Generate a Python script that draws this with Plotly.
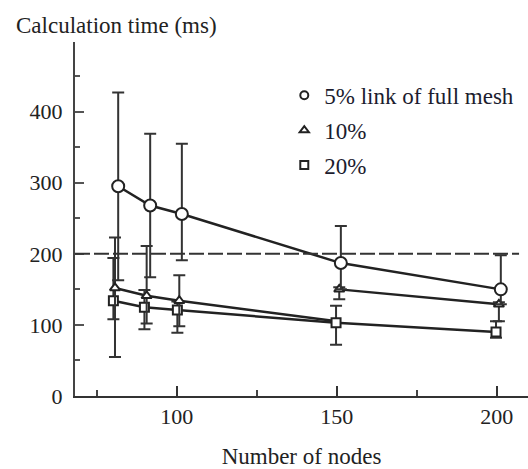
import plotly.graph_objects as go

# ---- data ----
circ_x = [81.7, 91.7, 101.6, 151.3, 201.3]
circ_y = [295, 268, 256, 187, 150]
circ_up = [132, 101, 99, 52, 48]
circ_dn = [132, 101, 65, 37, 21]

tri_x = [80.7, 90.6, 100.8, 150.8, 200.7]
tri_y = [152, 141, 134, 150, 129]
tri_up = [71, 70, 36, 3, 3]
tri_dn = [97, 39, 36, 14, 24]
# polyline drawn for the 10% series (as in the original figure)
tri_line_x = [80.7, 90.6, 100.8, 150.0, None, 150.8, 200.7]
tri_line_y = [152, 141, 134, 105, None, 150, 129]

sq_x = [80.2, 89.9, 100.2, 149.8, 199.8]
sq_y = [134, 125, 121, 103, 90]
sq_up = [60, 24, 12, 24, 15]
sq_dn = [26, 31, 32, 31, 8]

ref_level = 200
legend_names = ["5% link of full mesh", "10%", "20%"]

INK = "#222222"
FONT = "Liberation Serif, Times New Roman, Times, serif"

fig = go.Figure()

def err(up, dn):
    return dict(type="data", symmetric=False, array=up, arrayminus=dn,
                color="#333333", thickness=2, width=6)

# lines
fig.add_trace(go.Scatter(x=circ_x, y=circ_y, mode="lines",
                         line=dict(color=INK, width=2.5), showlegend=False, hoverinfo="skip"))
fig.add_trace(go.Scatter(x=tri_line_x, y=tri_line_y, mode="lines",
                         line=dict(color=INK, width=2.5), showlegend=False, hoverinfo="skip"))
fig.add_trace(go.Scatter(x=sq_x, y=sq_y, mode="lines",
                         line=dict(color=INK, width=2.5), showlegend=False, hoverinfo="skip"))

# markers + error bars
fig.add_trace(go.Scatter(x=sq_x, y=sq_y, mode="markers", error_y=err(sq_up, sq_dn),
                         marker=dict(symbol="square", size=9, color="white",
                                     line=dict(color=INK, width=2)), showlegend=False))
fig.add_trace(go.Scatter(x=tri_x, y=tri_y, mode="markers", error_y=err(tri_up, tri_dn),
                         marker=dict(symbol="triangle-up", size=9, color="white",
                                     line=dict(color=INK, width=2)), showlegend=False))
fig.add_trace(go.Scatter(x=circ_x, y=circ_y, mode="markers", error_y=err(circ_up, circ_dn),
                         marker=dict(symbol="circle", size=12, color="white",
                                     line=dict(color=INK, width=2)), showlegend=False))

# legend entries
for name, sym in zip(legend_names, ["circle", "triangle-up", "square"]):
    fig.add_trace(go.Scatter(x=[None], y=[None], mode="markers", name=name,
                             legendgroup=name,
                             marker=dict(symbol=sym, size=8, color="white",
                                         line=dict(color=INK, width=2))))

fig.add_shape(type="line", xref="x", yref="y", x0=68.2, x1=207, y0=ref_level, y1=ref_level,
              line=dict(color="#333333", width=2, dash="15px,4px"))

fig.update_layout(
    width=528, height=469,
    margin=dict(l=75, r=0, t=42, b=73),
    paper_bgcolor="white", plot_bgcolor="white",
    font=dict(family=FONT, size=22, color=INK),
    legend=dict(x=0.462, y=0.91, xanchor="left", yanchor="top",
                bgcolor="rgba(0,0,0,0)", font=dict(family=FONT, size=23, color="#1c1c2e"),
                traceorder="grouped", tracegroupgap=2, itemwidth=30),
    xaxis=dict(range=[68.2, 209.8], tickvals=[100, 150, 200], ticks="inside", ticklen=10,
               tickwidth=2, tickcolor="#333333", showline=True, linecolor="#333333", linewidth=2,
               showgrid=False, zeroline=False,
               minor=dict(tickvals=[75, 125, 175], ticks="inside", ticklen=6, tickwidth=1.5,
                          tickcolor="#444444"),
               title=dict(text="Number of nodes", font=dict(size=23), standoff=22)),
    yaxis=dict(range=[0, 498], tickvals=[0, 100, 200, 300, 400], ticks="inside", ticklen=9,
               tickwidth=1.5, tickcolor="#555555", showline=True, linecolor="#444444", linewidth=2,
               showgrid=False, zeroline=False, ticklabelstandoff=6,
               minor=dict(tickvals=[50, 150, 250, 350, 450], ticks="inside", ticklen=5,
                          tickwidth=1.5, tickcolor="#555555")),
    annotations=[dict(text="Calculation time (ms)", xref="paper", yref="paper",
                      x=-0.135, y=1.0, xanchor="left", yanchor="bottom", yshift=2,
                      showarrow=False, font=dict(family=FONT, size=23, color=INK))],
)

fig.write_html("out.html")
